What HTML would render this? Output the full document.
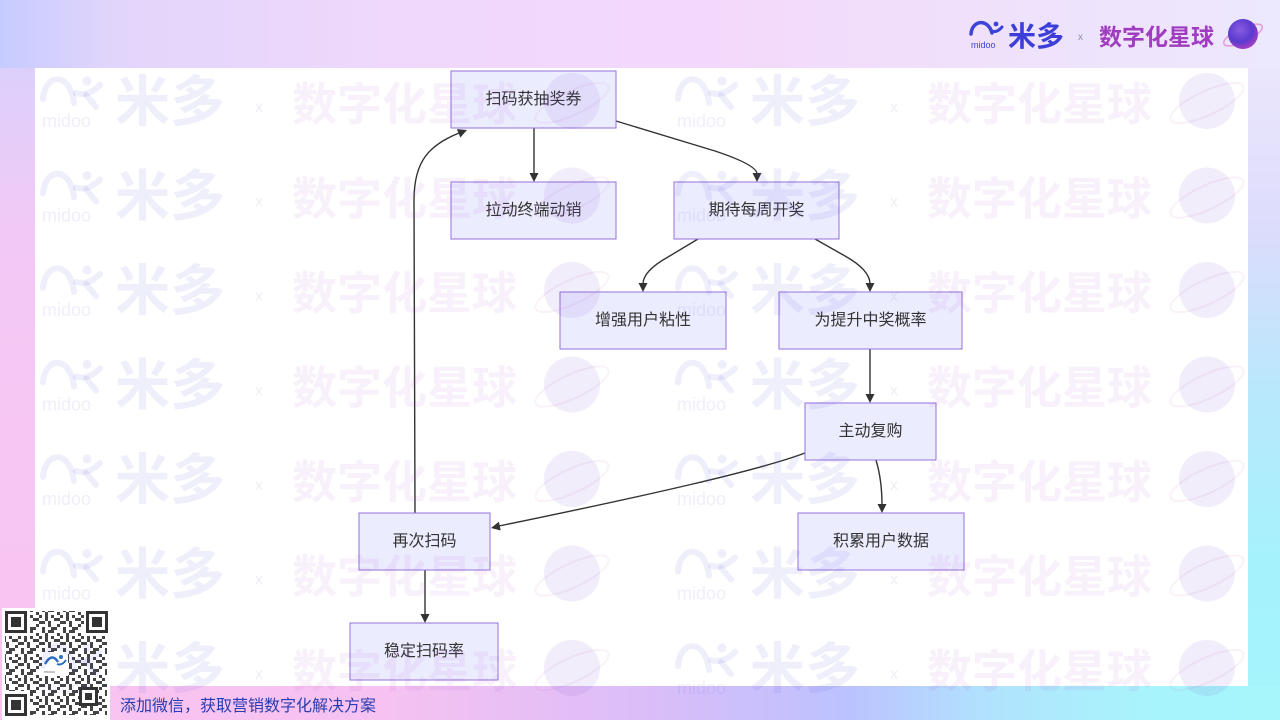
<!DOCTYPE html>
<html><head><meta charset="utf-8">
<style>
html,body{margin:0;padding:0;}
body{width:1280px;height:720px;position:relative;overflow:hidden;background:#f0dcfb;font-family:"Liberation Sans","Noto Sans CJK SC",sans-serif;}
.bg{position:absolute;}
#top{left:0;top:0;width:1280px;height:68px;background:linear-gradient(to right,#c6cbff 0%,#e2d5fb 9%,#efd8fb 30%,#f4d8fb 55%,#f0e0fb 75%,#ece8fd 100%);}
#left{left:0;top:68px;width:35px;height:652px;background:linear-gradient(to bottom,#dcd0fb 0%,#f2c9f6 25%,#f8c6f2 60%,#f9c4f0 100%);}
#right{left:1248px;top:68px;width:32px;height:652px;background:linear-gradient(to bottom,#ebe6fc 0%,#dcdcfc 25%,#b8e8fc 50%,#a6f2fc 75%,#a4f4fc 100%);}
#bottom{left:0;top:686px;width:1280px;height:34px;background:linear-gradient(to right,#f9c4f0 0%,#f6c2f1 30%,#dcbdf8 50%,#bcc2ff 66%,#b0e4fd 78%,#a8f4fc 90%,#a6f6fc 100%);}
#panel{left:35px;top:68px;width:1213px;height:618px;background:#ffffff;}
#qr{left:2px;top:608px;width:108px;height:112px;background:#fff;}
svg{position:absolute;left:0;top:0;}
.n{fill:#ECECFF;stroke:#9370DB;stroke-width:1;}
.t{font-size:16px;fill:#333;text-anchor:middle;dominant-baseline:central;font-family:"Liberation Sans","Noto Sans CJK SC",sans-serif;}
.e{fill:none;stroke:#333;stroke-width:1.4;}
.a{fill:#333;}
.wm1{fill:rgba(100,90,220,0.10);font-family:"Liberation Sans","Noto Sans CJK SC",sans-serif;}
.wmd{fill:rgba(100,90,220,0.10);}
.wms{fill:none;stroke:rgba(100,90,220,0.10);stroke-width:6;stroke-linecap:round;}
.wm2{fill:rgba(170,60,190,0.08);font-family:"Liberation Sans","Noto Sans CJK SC",sans-serif;font-weight:bold;}
.wmx{fill:rgba(120,110,180,0.12);font-family:"Liberation Sans",sans-serif;}
.wmp{fill:rgba(130,90,210,0.11);}
.wmo{fill:none;stroke:rgba(210,120,200,0.10);stroke-width:2;}
</style></head>
<body>
<div class="bg" id="top"></div>
<div class="bg" id="left"></div>
<div class="bg" id="right"></div>
<div class="bg" id="bottom"></div>
<div class="bg" id="panel"></div>
<div class="bg" id="qr"></div>

<svg width="1280" height="720" viewBox="0 0 1280 720" xmlns="http://www.w3.org/2000/svg">
<defs>
<pattern id="qrp" x="0" y="0" width="21" height="21" patternUnits="userSpaceOnUse">
<rect x="0" y="0" width="3" height="3" fill="#444"/><rect x="6" y="0" width="6" height="3" fill="#444"/><rect x="15" y="3" width="3" height="3" fill="#444"/>
<rect x="3" y="6" width="3" height="6" fill="#444"/><rect x="9" y="6" width="3" height="3" fill="#444"/><rect x="18" y="6" width="3" height="3" fill="#444"/>
<rect x="12" y="9" width="6" height="3" fill="#444"/><rect x="0" y="12" width="3" height="3" fill="#444"/><rect x="6" y="12" width="3" height="6" fill="#444"/>
<rect x="15" y="15" width="3" height="3" fill="#444"/><rect x="0" y="18" width="3" height="3" fill="#444"/><rect x="9" y="18" width="6" height="3" fill="#444"/>
<rect x="18" y="12" width="3" height="3" fill="#444"/><rect x="3" y="3" width="3" height="3" fill="#444"/>
</pattern>
<radialGradient id="pl" cx="0.4" cy="0.35" r="0.7">
<stop offset="0" stop-color="#8a5ae0"/><stop offset="0.6" stop-color="#5a3ad0"/><stop offset="1" stop-color="#b040c0"/>
</radialGradient>
</defs>

<!-- QR code -->
<rect x="5" y="611" width="102" height="104" fill="url(#qrp)"/>
<rect x="3" y="609" width="27" height="27" fill="#fff"/>
<rect x="5" y="611" width="22" height="22" fill="#333"/><rect x="8" y="614" width="16" height="16" fill="#fff"/><rect x="11" y="617" width="10" height="10" fill="#333"/>
<rect x="84" y="609" width="26" height="27" fill="#fff"/>
<rect x="86" y="611" width="22" height="22" fill="#333"/><rect x="89" y="614" width="16" height="16" fill="#fff"/><rect x="92" y="617" width="10" height="10" fill="#333"/>
<rect x="3" y="691" width="27" height="27" fill="#fff"/>
<rect x="5" y="694" width="22" height="22" fill="#333"/><rect x="8" y="697" width="16" height="16" fill="#fff"/><rect x="11" y="700" width="10" height="10" fill="#333"/>
<rect x="79" y="687" width="19" height="19" fill="#333"/><rect x="82" y="690" width="13" height="13" fill="#fff"/><rect x="85" y="693" width="7" height="7" fill="#333"/>
<rect x="42" y="652" width="26" height="24" fill="#fff"/>
<path d="M45,664 Q52,652 58,662" fill="none" stroke="#2a6fc0" stroke-width="2.5"/>
<circle cx="61" cy="657" r="2" fill="#2a6fc0"/>
<path d="M57,664 Q62,666 66,660" fill="none" stroke="#2a6fc0" stroke-width="2"/>
<text x="44" y="673" font-size="4" fill="#666" font-family="Liberation Sans,sans-serif">midoo</text>

<text x="120" y="711" font-size="16" fill="#2b3cae" font-family="Liberation Sans,Noto Sans CJK SC,sans-serif">添加微信，获取营销数字化解决方案</text>

<!-- Header logo -->
<path d="M971,34 C972,20 988,18 992,33" fill="none" stroke="#3b44d6" stroke-width="3.5" stroke-linecap="round"/>
<circle cx="996" cy="24" r="2.4" fill="#3b44d6"/>
<path d="M992,31 Q997,33 1002,27" fill="none" stroke="#3b44d6" stroke-width="3" stroke-linecap="round"/>
<text x="971" y="48" font-size="9" fill="#3b44d6" font-family="Liberation Sans,sans-serif">midoo</text>
<text x="1008" y="46" font-size="28" font-weight="bold" fill="#3b3fd8" font-family="Liberation Sans,Noto Sans CJK SC,sans-serif">米多</text>
<text x="1078" y="40" font-size="10" fill="#8a8aa8" font-family="Liberation Sans,sans-serif">x</text>
<text x="1099" y="45" font-size="23" font-weight="bold" fill="#a03cc0" font-family="Liberation Sans,Noto Sans CJK SC,sans-serif">数字化星球</text>
<ellipse cx="1243" cy="35" rx="21" ry="7" transform="rotate(-25 1243 35)" fill="none" stroke="#e49ad8" stroke-width="1.5"/>
<circle cx="1243" cy="34" r="15" fill="url(#pl)"/>

<!-- Edges -->
<path class="e" d="M534,128 L534,174"/>
<polygon class="a" points="529.5,173 538.5,173 534,182"/>
<path class="e" d="M616,121 L715,151 Q757,165 757,174"/>
<polygon class="a" points="752.5,173 761.5,173 757,182"/>
<path class="e" d="M698,239 L668,257 Q643,271 643,284"/>
<polygon class="a" points="638.5,283 647.5,283 643,292"/>
<path class="e" d="M815,239 L845,256 Q870,270 870,284"/>
<polygon class="a" points="865.5,283 874.5,283 870,292"/>
<path class="e" d="M870,349 L870,395"/>
<polygon class="a" points="865.5,394 874.5,394 870,403"/>
<path class="e" d="M805,453 C760,470 650,495 499,526"/>
<polygon class="a" points="491,528 500.7,530.5 498.9,521.7"/>
<path class="e" d="M876,460 Q882,480 882,505"/>
<polygon class="a" points="877.5,504 886.5,504 882,513"/>
<path class="e" d="M415,513 L414,200 C414,160 430,145 459,133"/>
<polygon class="a" points="467,130 460.3,137.5 456.9,129.1"/>
<path class="e" d="M425,570 L425,615"/>
<polygon class="a" points="420.5,614 429.5,614 425,623"/>

<!-- Nodes -->
<rect class="n" x="451" y="71" width="165" height="57"/><text class="t" x="533.5" y="99.5">扫码获抽奖券</text>
<rect class="n" x="451" y="182" width="165" height="57"/><text class="t" x="533.5" y="210.5">拉动终端动销</text>
<rect class="n" x="674" y="182" width="165" height="57"/><text class="t" x="756.5" y="210.5">期待每周开奖</text>
<rect class="n" x="560" y="292" width="166" height="57"/><text class="t" x="643" y="320.5">增强用户粘性</text>
<rect class="n" x="779" y="292" width="183" height="57"/><text class="t" x="870.5" y="320.5">为提升中奖概率</text>
<rect class="n" x="805" y="403" width="131" height="57"/><text class="t" x="870.5" y="431.5">主动复购</text>
<rect class="n" x="359" y="513" width="131" height="57"/><text class="t" x="424.5" y="541.5">再次扫码</text>
<rect class="n" x="798" y="513" width="166" height="57"/><text class="t" x="881" y="541.5">积累用户数据</text>
<rect class="n" x="350" y="623" width="148" height="57"/><text class="t" x="424" y="651.5">稳定扫码率</text>

<!-- Watermarks -->
<g transform="translate(40,101)"><path class="wms" d="M3,-2 C5,-28 30,-30 34,2"/><circle class="wmd" cx="47" cy="-20" r="4.5"/><path class="wms" d="M36,-8 Q48,-4 60,-16"/><path class="wms" d="M46,-6 L56,6"/><text class="wm1" x="2" y="26" font-size="18">midoo</text><text class="wm1" x="75" y="20" font-size="55" font-weight="bold">米多</text><text class="wmx" x="215" y="11" font-size="16">x</text><text class="wm2" x="252" y="19" font-size="45">数字化星球</text><ellipse class="wmo" cx="532" cy="2" rx="40" ry="12" transform="rotate(-25 532 2)"/><circle class="wmp" cx="532" cy="0" r="28"/></g>
<g transform="translate(675,101)"><path class="wms" d="M3,-2 C5,-28 30,-30 34,2"/><circle class="wmd" cx="47" cy="-20" r="4.5"/><path class="wms" d="M36,-8 Q48,-4 60,-16"/><path class="wms" d="M46,-6 L56,6"/><text class="wm1" x="2" y="26" font-size="18">midoo</text><text class="wm1" x="75" y="20" font-size="55" font-weight="bold">米多</text><text class="wmx" x="215" y="11" font-size="16">x</text><text class="wm2" x="252" y="19" font-size="45">数字化星球</text><ellipse class="wmo" cx="532" cy="2" rx="40" ry="12" transform="rotate(-25 532 2)"/><circle class="wmp" cx="532" cy="0" r="28"/></g>
<g transform="translate(40,195.5)"><path class="wms" d="M3,-2 C5,-28 30,-30 34,2"/><circle class="wmd" cx="47" cy="-20" r="4.5"/><path class="wms" d="M36,-8 Q48,-4 60,-16"/><path class="wms" d="M46,-6 L56,6"/><text class="wm1" x="2" y="26" font-size="18">midoo</text><text class="wm1" x="75" y="20" font-size="55" font-weight="bold">米多</text><text class="wmx" x="215" y="11" font-size="16">x</text><text class="wm2" x="252" y="19" font-size="45">数字化星球</text><ellipse class="wmo" cx="532" cy="2" rx="40" ry="12" transform="rotate(-25 532 2)"/><circle class="wmp" cx="532" cy="0" r="28"/></g>
<g transform="translate(675,195.5)"><path class="wms" d="M3,-2 C5,-28 30,-30 34,2"/><circle class="wmd" cx="47" cy="-20" r="4.5"/><path class="wms" d="M36,-8 Q48,-4 60,-16"/><path class="wms" d="M46,-6 L56,6"/><text class="wm1" x="2" y="26" font-size="18">midoo</text><text class="wm1" x="75" y="20" font-size="55" font-weight="bold">米多</text><text class="wmx" x="215" y="11" font-size="16">x</text><text class="wm2" x="252" y="19" font-size="45">数字化星球</text><ellipse class="wmo" cx="532" cy="2" rx="40" ry="12" transform="rotate(-25 532 2)"/><circle class="wmp" cx="532" cy="0" r="28"/></g>
<g transform="translate(40,290)"><path class="wms" d="M3,-2 C5,-28 30,-30 34,2"/><circle class="wmd" cx="47" cy="-20" r="4.5"/><path class="wms" d="M36,-8 Q48,-4 60,-16"/><path class="wms" d="M46,-6 L56,6"/><text class="wm1" x="2" y="26" font-size="18">midoo</text><text class="wm1" x="75" y="20" font-size="55" font-weight="bold">米多</text><text class="wmx" x="215" y="11" font-size="16">x</text><text class="wm2" x="252" y="19" font-size="45">数字化星球</text><ellipse class="wmo" cx="532" cy="2" rx="40" ry="12" transform="rotate(-25 532 2)"/><circle class="wmp" cx="532" cy="0" r="28"/></g>
<g transform="translate(675,290)"><path class="wms" d="M3,-2 C5,-28 30,-30 34,2"/><circle class="wmd" cx="47" cy="-20" r="4.5"/><path class="wms" d="M36,-8 Q48,-4 60,-16"/><path class="wms" d="M46,-6 L56,6"/><text class="wm1" x="2" y="26" font-size="18">midoo</text><text class="wm1" x="75" y="20" font-size="55" font-weight="bold">米多</text><text class="wmx" x="215" y="11" font-size="16">x</text><text class="wm2" x="252" y="19" font-size="45">数字化星球</text><ellipse class="wmo" cx="532" cy="2" rx="40" ry="12" transform="rotate(-25 532 2)"/><circle class="wmp" cx="532" cy="0" r="28"/></g>
<g transform="translate(40,384.5)"><path class="wms" d="M3,-2 C5,-28 30,-30 34,2"/><circle class="wmd" cx="47" cy="-20" r="4.5"/><path class="wms" d="M36,-8 Q48,-4 60,-16"/><path class="wms" d="M46,-6 L56,6"/><text class="wm1" x="2" y="26" font-size="18">midoo</text><text class="wm1" x="75" y="20" font-size="55" font-weight="bold">米多</text><text class="wmx" x="215" y="11" font-size="16">x</text><text class="wm2" x="252" y="19" font-size="45">数字化星球</text><ellipse class="wmo" cx="532" cy="2" rx="40" ry="12" transform="rotate(-25 532 2)"/><circle class="wmp" cx="532" cy="0" r="28"/></g>
<g transform="translate(675,384.5)"><path class="wms" d="M3,-2 C5,-28 30,-30 34,2"/><circle class="wmd" cx="47" cy="-20" r="4.5"/><path class="wms" d="M36,-8 Q48,-4 60,-16"/><path class="wms" d="M46,-6 L56,6"/><text class="wm1" x="2" y="26" font-size="18">midoo</text><text class="wm1" x="75" y="20" font-size="55" font-weight="bold">米多</text><text class="wmx" x="215" y="11" font-size="16">x</text><text class="wm2" x="252" y="19" font-size="45">数字化星球</text><ellipse class="wmo" cx="532" cy="2" rx="40" ry="12" transform="rotate(-25 532 2)"/><circle class="wmp" cx="532" cy="0" r="28"/></g>
<g transform="translate(40,479)"><path class="wms" d="M3,-2 C5,-28 30,-30 34,2"/><circle class="wmd" cx="47" cy="-20" r="4.5"/><path class="wms" d="M36,-8 Q48,-4 60,-16"/><path class="wms" d="M46,-6 L56,6"/><text class="wm1" x="2" y="26" font-size="18">midoo</text><text class="wm1" x="75" y="20" font-size="55" font-weight="bold">米多</text><text class="wmx" x="215" y="11" font-size="16">x</text><text class="wm2" x="252" y="19" font-size="45">数字化星球</text><ellipse class="wmo" cx="532" cy="2" rx="40" ry="12" transform="rotate(-25 532 2)"/><circle class="wmp" cx="532" cy="0" r="28"/></g>
<g transform="translate(675,479)"><path class="wms" d="M3,-2 C5,-28 30,-30 34,2"/><circle class="wmd" cx="47" cy="-20" r="4.5"/><path class="wms" d="M36,-8 Q48,-4 60,-16"/><path class="wms" d="M46,-6 L56,6"/><text class="wm1" x="2" y="26" font-size="18">midoo</text><text class="wm1" x="75" y="20" font-size="55" font-weight="bold">米多</text><text class="wmx" x="215" y="11" font-size="16">x</text><text class="wm2" x="252" y="19" font-size="45">数字化星球</text><ellipse class="wmo" cx="532" cy="2" rx="40" ry="12" transform="rotate(-25 532 2)"/><circle class="wmp" cx="532" cy="0" r="28"/></g>
<g transform="translate(40,573.5)"><path class="wms" d="M3,-2 C5,-28 30,-30 34,2"/><circle class="wmd" cx="47" cy="-20" r="4.5"/><path class="wms" d="M36,-8 Q48,-4 60,-16"/><path class="wms" d="M46,-6 L56,6"/><text class="wm1" x="2" y="26" font-size="18">midoo</text><text class="wm1" x="75" y="20" font-size="55" font-weight="bold">米多</text><text class="wmx" x="215" y="11" font-size="16">x</text><text class="wm2" x="252" y="19" font-size="45">数字化星球</text><ellipse class="wmo" cx="532" cy="2" rx="40" ry="12" transform="rotate(-25 532 2)"/><circle class="wmp" cx="532" cy="0" r="28"/></g>
<g transform="translate(675,573.5)"><path class="wms" d="M3,-2 C5,-28 30,-30 34,2"/><circle class="wmd" cx="47" cy="-20" r="4.5"/><path class="wms" d="M36,-8 Q48,-4 60,-16"/><path class="wms" d="M46,-6 L56,6"/><text class="wm1" x="2" y="26" font-size="18">midoo</text><text class="wm1" x="75" y="20" font-size="55" font-weight="bold">米多</text><text class="wmx" x="215" y="11" font-size="16">x</text><text class="wm2" x="252" y="19" font-size="45">数字化星球</text><ellipse class="wmo" cx="532" cy="2" rx="40" ry="12" transform="rotate(-25 532 2)"/><circle class="wmp" cx="532" cy="0" r="28"/></g>
<g transform="translate(40,668)"><path class="wms" d="M3,-2 C5,-28 30,-30 34,2"/><circle class="wmd" cx="47" cy="-20" r="4.5"/><path class="wms" d="M36,-8 Q48,-4 60,-16"/><path class="wms" d="M46,-6 L56,6"/><text class="wm1" x="2" y="26" font-size="18">midoo</text><text class="wm1" x="75" y="20" font-size="55" font-weight="bold">米多</text><text class="wmx" x="215" y="11" font-size="16">x</text><text class="wm2" x="252" y="19" font-size="45">数字化星球</text><ellipse class="wmo" cx="532" cy="2" rx="40" ry="12" transform="rotate(-25 532 2)"/><circle class="wmp" cx="532" cy="0" r="28"/></g>
<g transform="translate(675,668)"><path class="wms" d="M3,-2 C5,-28 30,-30 34,2"/><circle class="wmd" cx="47" cy="-20" r="4.5"/><path class="wms" d="M36,-8 Q48,-4 60,-16"/><path class="wms" d="M46,-6 L56,6"/><text class="wm1" x="2" y="26" font-size="18">midoo</text><text class="wm1" x="75" y="20" font-size="55" font-weight="bold">米多</text><text class="wmx" x="215" y="11" font-size="16">x</text><text class="wm2" x="252" y="19" font-size="45">数字化星球</text><ellipse class="wmo" cx="532" cy="2" rx="40" ry="12" transform="rotate(-25 532 2)"/><circle class="wmp" cx="532" cy="0" r="28"/></g>
</svg>
</body></html>
